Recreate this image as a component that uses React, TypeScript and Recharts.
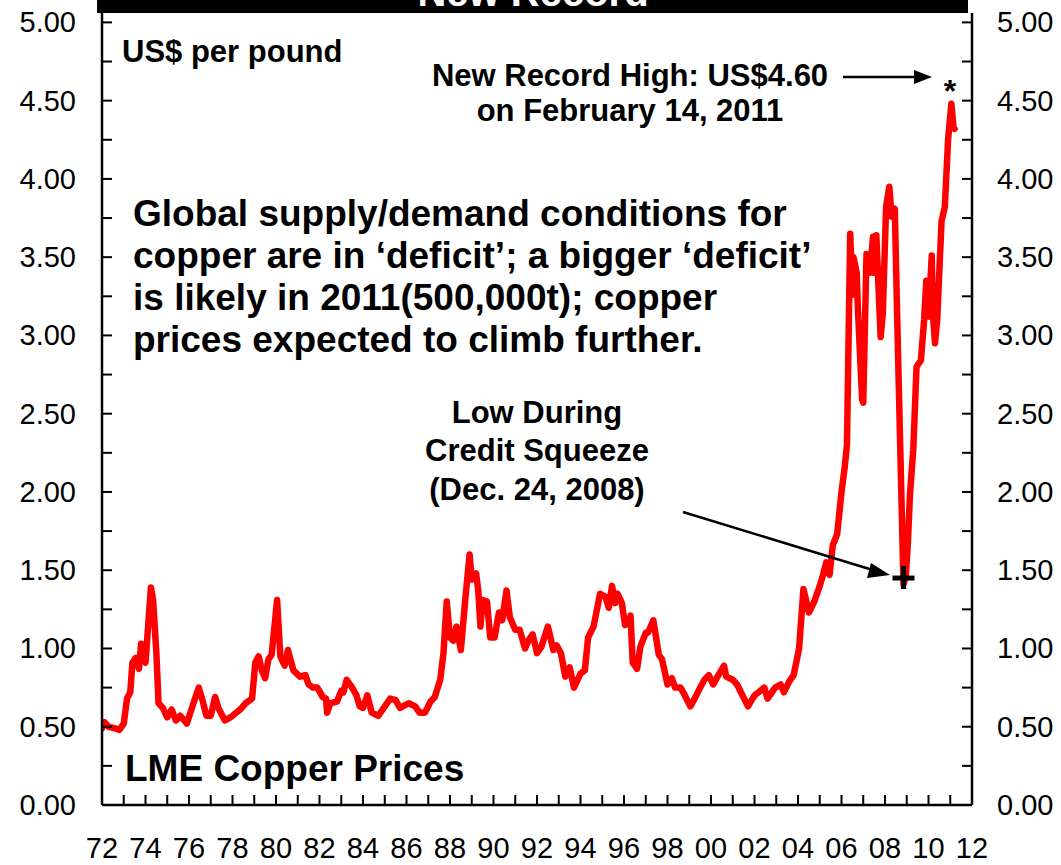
import React from 'react';
import { LineChart, Line, XAxis, YAxis, ReferenceDot } from 'recharts';

// ---- data ----
const years = [
  1972.0, 1972.1, 1972.3, 1972.6, 1972.8, 1973.0, 1973.15, 1973.3, 1973.4, 1973.55,
  1973.7, 1973.8, 1973.9, 1974.0, 1974.25, 1974.35, 1974.5, 1974.6, 1974.8, 1975.0,
  1975.2, 1975.4, 1975.6, 1975.9, 1976.3, 1976.45, 1976.6, 1976.8, 1977.0, 1977.2,
  1977.35, 1977.65, 1977.9, 1978.0, 1978.35, 1978.6, 1978.9, 1979.05, 1979.2, 1979.35,
  1979.5, 1979.65, 1979.8, 1980.05, 1980.2, 1980.4, 1980.55, 1980.8, 1981.1, 1981.35,
  1981.5, 1981.7, 1981.9, 1982.15, 1982.3, 1982.35, 1982.5, 1982.8, 1983.0, 1983.1,
  1983.25, 1983.5, 1983.7, 1983.85, 1984.0, 1984.2, 1984.4, 1984.7, 1984.9, 1985.25,
  1985.5, 1985.7, 1986.1, 1986.4, 1986.6, 1986.85, 1987.1, 1987.3, 1987.55, 1987.7,
  1987.85, 1988.0, 1988.15, 1988.3, 1988.5, 1988.7, 1988.9, 1989.0, 1989.2, 1989.3,
  1989.4, 1989.5, 1989.7, 1989.85, 1990.05, 1990.25, 1990.4, 1990.6, 1990.75, 1991.0,
  1991.2, 1991.45, 1991.6, 1991.8, 1992.0, 1992.2, 1992.5, 1992.75, 1992.9, 1993.1,
  1993.3, 1993.5, 1993.7, 1994.0, 1994.2, 1994.35, 1994.6, 1994.9, 1995.15, 1995.3,
  1995.45, 1995.6, 1995.7, 1995.9, 1996.05, 1996.2, 1996.3, 1996.4, 1996.6, 1996.75,
  1997.0, 1997.1, 1997.35, 1997.6, 1997.75, 1998.0, 1998.2, 1998.35, 1998.6, 1998.8,
  1999.05, 1999.25, 1999.5, 1999.7, 1999.9, 2000.1, 2000.3, 2000.6, 2000.7, 2001.0,
  2001.2, 2001.45, 2001.7, 2002.0, 2002.45, 2002.6, 2002.95, 2003.2, 2003.35, 2003.6,
  2003.8, 2004.05, 2004.25, 2004.5, 2004.75, 2005.0, 2005.15, 2005.3, 2005.45, 2005.6,
  2005.8, 2006.0, 2006.15, 2006.25, 2006.4, 2006.5, 2006.55, 2006.7, 2006.75, 2006.95,
  2007.0, 2007.15, 2007.3, 2007.45, 2007.5, 2007.6, 2007.8, 2007.9, 2008.05, 2008.2,
  2008.3, 2008.45, 2008.55, 2008.7, 2008.85, 2008.95, 2009.05, 2009.15, 2009.3, 2009.45,
  2009.65, 2009.8, 2009.9, 2010.0, 2010.15, 2010.2, 2010.3, 2010.4, 2010.6, 2010.75,
  2010.9, 2011.05, 2011.15, 2011.2,
];

const prices = [
  0.49, 0.53, 0.50, 0.49, 0.48, 0.52, 0.68, 0.72, 0.91, 0.94,
  0.87, 1.03, 0.93, 0.91, 1.39, 1.31, 0.97, 0.65, 0.62, 0.56,
  0.61, 0.54, 0.57, 0.52, 0.69, 0.75, 0.68, 0.57, 0.57, 0.69,
  0.62, 0.54, 0.56, 0.57, 0.61, 0.65, 0.68, 0.91, 0.95, 0.86,
  0.81, 0.93, 0.96, 1.31, 0.95, 0.89, 0.99, 0.86, 0.82, 0.83,
  0.77, 0.75, 0.75, 0.69, 0.68, 0.59, 0.65, 0.66, 0.73, 0.72,
  0.80, 0.75, 0.70, 0.63, 0.62, 0.70, 0.59, 0.57, 0.61, 0.68,
  0.67, 0.62, 0.65, 0.63, 0.59, 0.59, 0.66, 0.69, 0.80, 0.97,
  1.30, 1.07, 1.05, 1.14, 0.99, 1.31, 1.60, 1.44, 1.48, 1.37,
  1.14, 1.31, 1.30, 1.07, 1.07, 1.23, 1.18, 1.37, 1.20, 1.12,
  1.12, 1.00, 1.05, 1.09, 0.97, 1.01, 1.14, 0.99, 1.02, 0.97,
  0.82, 0.88, 0.75, 0.84, 0.86, 1.07, 1.14, 1.35, 1.33, 1.26,
  1.40, 1.29, 1.35, 1.29, 1.15, 1.16, 1.21, 0.91, 0.87, 1.01,
  1.10, 1.10, 1.18, 0.96, 0.93, 0.77, 0.81, 0.75, 0.75, 0.70,
  0.63, 0.68, 0.75, 0.80, 0.83, 0.77, 0.82, 0.89, 0.82, 0.80,
  0.77, 0.70, 0.63, 0.70, 0.75, 0.68, 0.75, 0.77, 0.72, 0.79,
  0.83, 1.00, 1.38, 1.23, 1.30, 1.40, 1.47, 1.55, 1.47, 1.66,
  1.73, 2.00, 2.16, 2.30, 3.65, 3.26, 3.50, 3.40, 3.18, 2.59,
  2.57, 3.52, 3.40, 3.63, 3.40, 3.64, 2.99, 3.14, 3.82, 3.95,
  3.76, 3.81, 3.18, 2.29, 1.41, 1.45, 1.67, 1.99, 2.27, 2.80,
  2.84, 3.10, 3.35, 3.12, 3.51, 3.14, 2.95, 3.10, 3.73, 3.82,
  4.25, 4.48, 4.33, 4.32,
];

const xTicks = [
  1972, 1973, 1974, 1975, 1976, 1977, 1978, 1979, 1980, 1981,
  1982, 1983, 1984, 1985, 1986, 1987, 1988, 1989, 1990, 1991,
  1992, 1993, 1994, 1995, 1996, 1997, 1998, 1999, 2000, 2001,
  2002, 2003, 2004, 2005, 2006, 2007, 2008, 2009, 2010, 2011, 2012,
];
const yTicks = [
  0, 0.25, 0.5, 0.75, 1, 1.25, 1.5, 1.75, 2, 2.25, 2.5, 2.75,
  3, 3.25, 3.5, 3.75, 4, 4.25, 4.5, 4.75, 5,
];
const yLabelled = [0, 0.5, 1, 1.5, 2, 2.5, 3, 3.5, 4, 4.5, 5];

const recordHigh = { year: 2010.99, price: 4.6 };
const creditLow = { year: 2008.85, price: 1.45 };

const data = years.map((y, i) => ({ year: y, price: prices[i] }));

// ---- layout ----
const W = 1061;
const H = 865;
const PL = 102; // plot left
const PR = 972; // plot right
const PB = 805; // plot bottom
const FONT = '"Liberation Sans", Arial, Helvetica, sans-serif';

const LeftTick = (props: any) => {
  const { y, payload } = props;
  const v = payload.value as number;
  const labelled = yLabelled.some((t) => Math.abs(t - v) < 1e-6);
  return (
    <g>
      <line x1={PL} x2={PL + 10} y1={y} y2={y} stroke="#000" strokeWidth={2} />
      {labelled && (
        <text x={PL - 26} y={y + 10} textAnchor="end" fontSize={29} fontFamily={FONT} fill="#000">
          {v.toFixed(2)}
        </text>
      )}
    </g>
  );
};

const RightTick = (props: any) => {
  const { y, payload } = props;
  const v = payload.value as number;
  const labelled = yLabelled.some((t) => Math.abs(t - v) < 1e-6);
  return (
    <g>
      <line x1={PR - 10} x2={PR} y1={y} y2={y} stroke="#000" strokeWidth={2} />
      {labelled && (
        <text x={PR + 25} y={y + 10} textAnchor="start" fontSize={29} fontFamily={FONT} fill="#000">
          {v.toFixed(2)}
        </text>
      )}
    </g>
  );
};

const XTick = (props: any) => {
  const { x, payload } = props;
  const yr = payload.value as number;
  const lbl = String(yr % 100).padStart(2, '0');
  return (
    <g>
      <line x1={x} x2={x} y1={PB} y2={PB - 10} stroke="#000" strokeWidth={2} />
      {yr % 2 === 0 && (
        <text x={x} y={PB + 53} textAnchor="middle" fontSize={29} fontFamily={FONT} fill="#000">
          {lbl}
        </text>
      )}
    </g>
  );
};

const Star = (props: any) => {
  const { cx, cy } = props;
  return (
    <text x={cx} y={cy + 17} textAnchor="middle" fontSize={32} fontWeight="bold" fontFamily={FONT} fill="#000">
      *
    </text>
  );
};

const Plus = (props: any) => {
  const { cx, cy } = props;
  return (
    <g>
      <line x1={cx - 11} x2={cx + 11} y1={cy} y2={cy} stroke="#000" strokeWidth={5} />
      <line x1={cx} x2={cx} y1={cy - 12} y2={cy + 11} stroke="#000" strokeWidth={5} />
    </g>
  );
};

export default function App() {
  const bold = { fontFamily: FONT, fontWeight: 'bold' as const, fill: '#000' };
  return (
    <div style={{ position: 'absolute', left: 0, top: 0, width: W, height: H, background: '#fff' }}>
      <LineChart
        width={W}
        height={H}
        data={data}
        margin={{ top: 13, right: 0, bottom: 0, left: 0 }}
      >
        <XAxis
          dataKey="year"
          type="number"
          domain={[1972, 2012]}
          ticks={xTicks}
          interval={0}
          height={60}
          tickLine={false}
          axisLine={{ stroke: '#000', strokeWidth: 2.5 }}
          tick={XTick}
          allowDataOverflow
        />
        <YAxis
          yAxisId="left"
          orientation="left"
          type="number"
          domain={[0, 5.06]}
          ticks={yTicks}
          interval={0}
          width={102}
          tickLine={false}
          axisLine={{ stroke: '#000', strokeWidth: 2.5 }}
          tick={LeftTick}
          allowDataOverflow
        />
        <YAxis
          yAxisId="right"
          orientation="right"
          type="number"
          domain={[0, 5.06]}
          ticks={yTicks}
          interval={0}
          width={89}
          tickLine={false}
          axisLine={{ stroke: '#000', strokeWidth: 2.5 }}
          tick={RightTick}
          allowDataOverflow
        />
        <Line
          yAxisId="left"
          type="linear"
          dataKey="price"
          stroke="#FF0000"
          strokeWidth={6.5}
          strokeLinejoin="round"
          strokeLinecap="round"
          dot={false}
          activeDot={false}
          isAnimationActive={false}
        />
        <ReferenceDot yAxisId="left" x={recordHigh.year} y={recordHigh.price} shape={Star} />
        <ReferenceDot yAxisId="left" x={creditLow.year} y={creditLow.price} shape={Plus} />
      </LineChart>

      <svg
        width={W}
        height={H}
        style={{ position: 'absolute', left: 0, top: 0, pointerEvents: 'none' }}
      >
        {/* title bar (cropped at the top, as in the reference) */}
        <rect x={97} y={0} width={871} height={13} fill="#000" />
        <text x={533} y={6} textAnchor="middle" fontSize={40} {...bold} fill="#fff">
          New Record
        </text>

        <text x={122} y={62} fontSize={31} {...bold}>US$ per pound</text>

        <text x={630} y={86} textAnchor="middle" fontSize={31} {...bold}>New Record High: US$4.60</text>
        <text x={630} y={121} textAnchor="middle" fontSize={31} {...bold}>on February 14, 2011</text>
        <line x1={843} y1={77} x2={918} y2={77} stroke="#000" strokeWidth={2.5} />
        <polygon points="914,70 932,77 914,84" fill="#000" />

        <text x={133} y={226} fontSize={37} {...bold}>Global supply/demand conditions for</text>
        <text x={133} y={268} fontSize={37} {...bold}>copper are in ‘deficit’; a bigger ‘deficit’</text>
        <text x={133} y={310} fontSize={37} {...bold}>is likely in 2011(500,000t); copper</text>
        <text x={133} y={352} fontSize={37} {...bold}>prices expected to climb further.</text>

        <text x={537} y={423} textAnchor="middle" fontSize={31} {...bold}>Low During</text>
        <text x={537} y={461} textAnchor="middle" fontSize={31} {...bold}>Credit Squeeze</text>
        <text x={537} y={500} textAnchor="middle" fontSize={31} {...bold}>(Dec. 24, 2008)</text>
        <line x1={683} y1={512} x2={876} y2={571} stroke="#000" strokeWidth={2.5} />
        <polygon points="871,563 890,575 867,578" fill="#000" />

        <text x={125} y={781} fontSize={37} {...bold}>LME Copper Prices</text>
      </svg>
    </div>
  );
}
